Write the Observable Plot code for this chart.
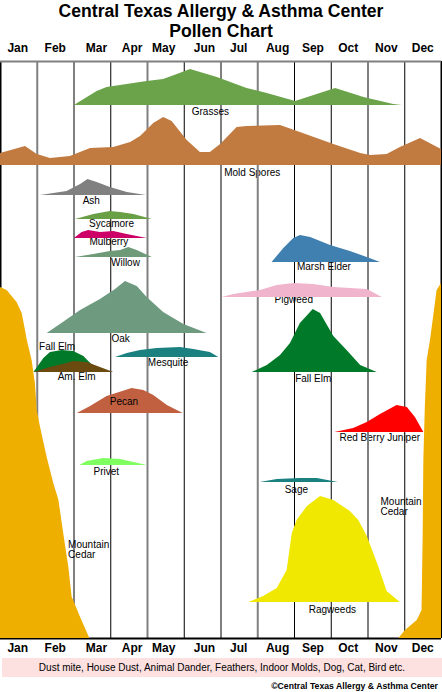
<!DOCTYPE html>
<html>
<head>
<meta charset="utf-8">
<script src="https://cdn.jsdelivr.net/npm/d3@7"></script>
<script src="https://cdn.jsdelivr.net/npm/@observablehq/plot@0.6"></script>
<style>
body{margin:0;background:#fff;font-family:"Liberation Sans",Arial,sans-serif;width:442px;color:#000}
#title{height:38px;padding-top:2px;box-sizing:border-box;text-align:center;font-weight:bold;font-size:17.6px;line-height:19.7px}
#chart svg{display:block}
#band{margin:0 0 0 2px;height:19px;background:#fde0e0;text-align:center;font-size:10px;line-height:19px}
#copy{text-align:right;padding-right:4px;font-size:8.7px;font-weight:bold;line-height:18px}
</style>
</head>
<body>
<div id="title">Central Texas Allergy &amp; Asthma Center<br>Pollen Chart</div>
<div id="chart"></div>
<div id="band">Dust mite, House Dust, Animal Dander, Feathers, Indoor Molds, Dog, Cat, Bird etc.</div>
<div id="copy">©Central Texas Allergy &amp; Asthma Center</div>
<script>
// month labels and where they sit (in months from Jan 1)
const months = ["Jan","Feb","Mar","Apr","May","Jun","Jul","Aug","Sep","Oct","Nov","Dec"]
const monthLabelAt = [0.47,1.49,2.61,3.58,4.44,5.55,6.48,7.54,8.5,9.46,10.5,11.49]
const greyBounds = [1,4,7,10]
const blackBounds = [2,3,5,6,8,9,11]

// [month, level above the row baseline]
const grasses = [[2.01,0],[2.63,14],[2.9,18],[3.99,24],[4.44,26],[4.81,31],[5.17,36],[5.9,28],[6.71,17],[7.26,12],[8.03,4],[9.12,17],[9.89,8],[10.7,1],[10.93,0]]
const moldSpores = [[0,12],[0.68,19],[1,11],[1.36,7],[1.9,9],[2.45,17],[3.08,18],[3.54,23],[3.81,29],[4.17,42],[4.44,48],[4.67,44],[5.08,25],[5.44,13],[5.71,13],[5.99,21],[6.44,38],[6.71,39],[7.62,40],[8.16,33],[9.07,21],[9.8,12],[10.07,10],[10.52,11],[10.88,18],[11.43,27],[12,16]]
const ash = [[1.09,0],[1.81,4],[2.18,11],[2.38,16],[2.63,13],[2.99,8],[3.45,3],[3.97,0]]
const sycamore = [[2.04,0],[2.54,5],[2.99,8],[3.27,7],[3.63,5],[4.13,0]]
const mulberry = [[2.01,0],[2.22,6],[2.4,8],[2.72,6],[3.08,7],[3.45,4],[3.99,0]]
const willow = [[2.04,0],[2.54,3],[2.99,6],[3.27,7],[3.49,10],[3.72,7],[4.13,0]]
const marshElder = [[7.39,0],[7.71,14],[7.98,24],[8.16,27],[8.44,25],[8.98,17],[9.52,11],[9.98,5],[10.34,0]]
const pigweed = [[6.03,0],[6.35,3],[7.07,7],[7.53,12],[7.98,14],[8.53,13],[9.07,10],[9.98,8],[10.39,0]]
const oak = [[1.27,0],[1.63,9],[2.18,23],[2.72,34],[3.13,44],[3.4,52],[3.72,47],[3.99,36],[4.44,21],[4.99,9],[5.62,0]]
const fallElmSpring = [[0.91,0],[1.18,14],[1.36,20],[1.68,22],[1.99,21],[2.27,16],[2.4,11],[2.72,0]]
const amElm = [[0.91,0],[1.36,5],[1.81,9],[1.99,11],[2.36,10],[2.72,5],[3.08,0]]
const mesquite = [[3.13,0],[3.45,4],[3.81,7],[4.26,9],[4.9,10],[5.26,8],[5.71,5],[5.94,0]]
const pecan = [[2.09,0],[2.45,7],[2.9,17],[3.58,25],[3.9,23],[4.17,18],[4.54,8],[4.97,0]]
const fallElm = [[6.85,0],[7.26,7],[7.62,17],[7.89,29],[8.16,49],[8.51,63],[8.71,59],[9.07,36],[9.43,22],[9.8,7],[10.25,0]]
const redBerryJuniper = [[9.1,0],[9.61,4],[9.98,10],[10.34,18],[10.79,27],[11.07,25],[11.29,15],[11.52,0]]
const privet = [[2.16,0],[2.36,4],[2.81,7],[3.27,6],[3.63,3],[3.99,0]]
const sage = [[7.07,0],[7.53,3],[8.16,4],[8.62,4],[9.19,0]]
const ragweeds = [[6.76,0],[7.16,6],[7.53,14],[7.8,32],[7.94,69],[8.07,82],[8.35,96],[8.71,106],[9.07,102],[9.52,91],[9.75,82],[9.98,66],[10.29,36],[10.52,11],[10.88,0]]
const cedarWinter = [[0,351],[0.18,348],[0.45,336],[0.59,325],[0.68,308],[0.73,298],[0.86,278],[0.95,255],[1,228],[1.09,211],[1.27,181],[1.45,155],[1.59,138],[1.72,105],[1.86,71],[1.95,41],[1.99,38],[2.18,21],[2.43,0]]
const cedarDec = [[10.84,0],[11.02,8],[11.34,18],[11.47,28],[11.5,100],[11.52,180],[11.56,231],[11.61,278],[11.7,298],[11.78,320],[11.88,348],[12,355]]

// row layout: baseline level, colour, label spot
const rows = [
  {name:"Grasses", values:grasses, base:533, color:"#6ba34b", at:[5.71,527]},
  {name:"Mold Spores", values:moldSpores, base:473, color:"#c17a40", at:[6.85,466]},
  {name:"Ash", values:ash, base:443, color:"#808080", at:[2.47,438]},
  {name:"Sycamore", values:sycamore, base:419, color:"#6aa045", at:[3.02,415]},
  {name:"Mulberry", values:mulberry, base:400, color:"#cc0066", at:[2.95,397]},
  {name:"Willow", values:willow, base:381, color:"#6e9a78", at:[3.4,376]},
  {name:"Marsh Elder", values:marshElder, base:376, color:"#3f80b0", at:[8.8,372]},
  {name:"Pigweed", values:pigweed, base:341, color:"#f0b4cc", at:[7.98,339]},
  {name:"Oak", values:oak, base:305, color:"#6e9a80", at:[3.27,300]},
  {name:"Fall Elm", values:fallElmSpring, base:266, color:"#007a28", at:[1.54,292]},
  {name:"Am. Elm", values:amElm, base:266, color:"#6b4a10", at:[2.07,262]},
  {name:"Mesquite", values:mesquite, base:281, color:"#1a8080", at:[4.56,276]},
  {name:"Pecan", values:pecan, base:225, color:"#c06040", at:[3.36,237], inside:true},
  {name:"Fall Elm", values:fallElm, base:266, color:"#007a28", at:[8.51,260]},
  {name:"Red Berry Juniper", values:redBerryJuniper, base:206, color:"#ff0000", at:[10.32,201]},
  {name:"Privet", values:privet, base:173, color:"#80ff60", at:[2.88,167]},
  {name:"Sage", values:sage, base:156, color:"#1a8080", at:[8.05,149]},
  {name:"Ragweeds", values:ragweeds, base:36, color:"#f0e800", at:[9.03,29]},
  {name:"Mountain\nCedar", values:cedarWinter, base:0, color:"#efaf00", at:[1.84,89], start:true},
  {name:"Mountain\nCedar", values:cedarDec, base:0, color:"#efaf00", at:[10.34,132], start:true}
]

const labelOpts = {
  x: d => d.at[0], y: d => d.at[1], text: "name",
  textAnchor: d => d.start ? "start" : "middle",
  lineAnchor: "middle", lineHeight: 1, fontSize: 10, fill: "#000"
}

const chart = Plot.plot({
  width: 442,
  height: 620,
  marginTop: 23,
  marginBottom: 20,
  marginLeft: 0,
  marginRight: 1,
  x: {domain: [0, 12], axis: null},
  y: {domain: [0, 577], axis: null},
  style: {fontFamily: "'Liberation Sans', Arial, sans-serif", background: "#fff", color: "#000", overflow: "visible"},
  marks: [
    Plot.text(rows.filter(d => !d.inside && !d.start), labelOpts),
    Plot.text(rows.filter(d => d.start), {...labelOpts, textAnchor: "start"}),
    Plot.ruleX(greyBounds, {stroke: "#808080", strokeWidth: 2}),
    Plot.ruleX(blackBounds, {stroke: "#000", strokeWidth: 1}),
    Plot.ruleX([0, 12], {stroke: "#000", strokeWidth: 2}),
    Plot.ruleY([577], {stroke: "#808080", strokeWidth: 2}),
    Plot.ruleY([0], {stroke: "#000", strokeWidth: 2}),
    ...rows.map(r => Plot.areaY(r.values, {
      x: d => d[0],
      y1: () => r.base,
      y2: d => r.base + d[1],
      fill: r.color
    })),
    Plot.text(rows.filter(d => d.inside), labelOpts),
    Plot.text(monthLabelAt, {x: d => d, y: () => 577, dy: -13, text: (d, i) => months[i], fontWeight: "bold", fontSize: 12, fill: "#000"}),
    Plot.text(monthLabelAt, {x: d => d, y: () => 0, dy: 10, text: (d, i) => months[i], fontWeight: "bold", fontSize: 12, fill: "#000"})
  ]
})

d3.select("#chart").append(() => chart)
</script>
</body>
</html>
